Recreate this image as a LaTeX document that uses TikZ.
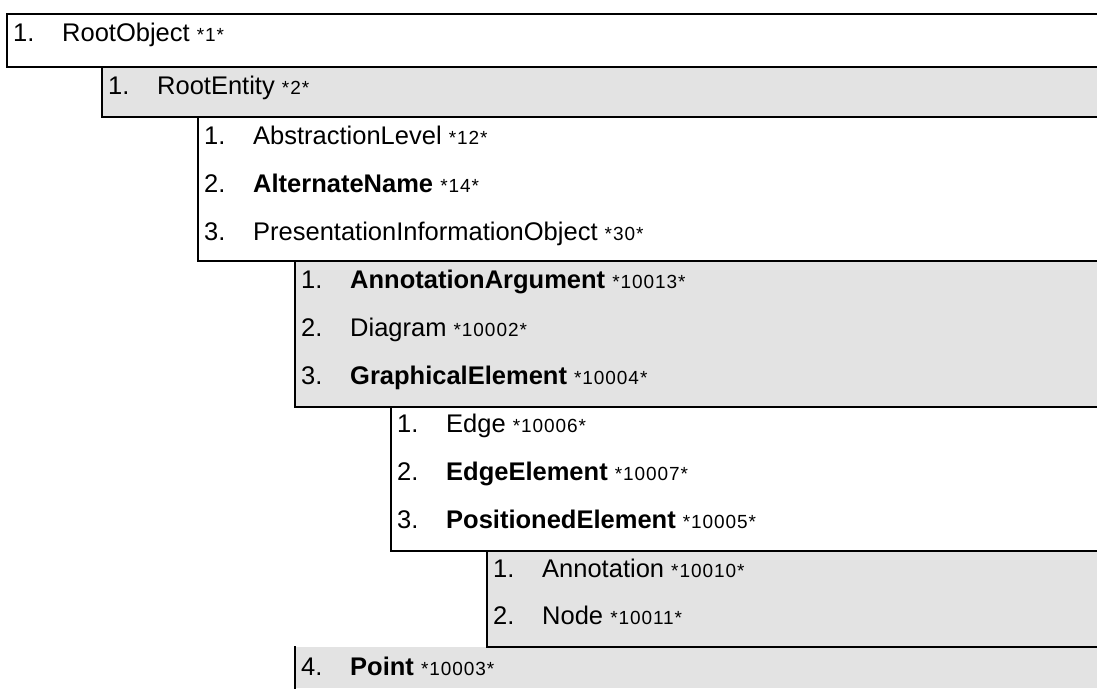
\documentclass[tikz,border=0pt]{standalone}
\usepackage{fontspec}
\setmainfont{Liberation Sans}
\newfontfamily\tagfont[LetterSpace=5]{Liberation Sans}
\definecolor{panelgray}{RGB}{227,227,227}
\tikzset{
  rule/.style={line width=1.8pt, line cap=rect},
  entry/.style={anchor=base west, inner sep=0pt, font=\fontsize{25.5}{30}\selectfont},
}
% list number, item name, reference tag
\newcommand{\itemrow}[3]{\makebox[49pt][l]{#1}#2 {\tagfont\fontsize{19}{22}\selectfont *#3*}}
\begin{document}
\begin{tikzpicture}[x=1pt,y=-1pt]
\useasboundingbox (0,0) rectangle (1097,688);
% grey panels
\fill[panelgray] (102,67) rectangle (1097,117);
\fill[panelgray] (295,261) rectangle (1097,407);
\fill[panelgray] (487,551) rectangle (1097,647);
\fill[panelgray] (295,647) rectangle (1097,688);
% panel borders: left and bottom edges, open to the right
\draw[rule] (1097,14) -- (7,14) -- (7,67) -- (1097,67);
\draw[rule] (102,67) -- (102,117) -- (1097,117);
\draw[rule] (198,117) -- (198,261) -- (1097,261);
\draw[rule] (295,261) -- (295,407) -- (1097,407);
\draw[rule] (391,407) -- (391,551) -- (1097,551);
\draw[rule] (487,551) -- (487,647) -- (1097,647);
\draw[rule] (295,647) -- (295,688);
% entries
\node[entry] (rootobject) at (13,41) {\itemrow{1.}{RootObject}{1}};
\node[entry] (rootentity) at (108,94) {\itemrow{1.}{RootEntity}{2}};
\node[entry] (abstraction) at (204,144) {\itemrow{1.}{AbstractionLevel}{12}};
\node[entry] (altname) at (204,192) {\itemrow{2.}{\textbf{AlternateName}}{14}};
\node[entry] (presinfo) at (204,240) {\itemrow{3.}{PresentationInformationObject}{30}};
\node[entry] (annotarg) at (301,288) {\itemrow{1.}{\textbf{AnnotationArgument}}{10013}};
\node[entry] (diagram) at (301,336) {\itemrow{2.}{Diagram}{10002}};
\node[entry] (graphel) at (301,384) {\itemrow{3.}{\textbf{GraphicalElement}}{10004}};
\node[entry] (edge) at (397,432) {\itemrow{1.}{Edge}{10006}};
\node[entry] (edgeel) at (397,480) {\itemrow{2.}{\textbf{EdgeElement}}{10007}};
\node[entry] (posel) at (397,528) {\itemrow{3.}{\textbf{PositionedElement}}{10005}};
\node[entry] (annotation) at (493,577) {\itemrow{1.}{Annotation}{10010}};
\node[entry] (node) at (493,624) {\itemrow{2.}{Node}{10011}};
\node[entry] (point) at (301,675) {\itemrow{4.}{\textbf{Point}}{10003}};
\end{tikzpicture}
\end{document}
